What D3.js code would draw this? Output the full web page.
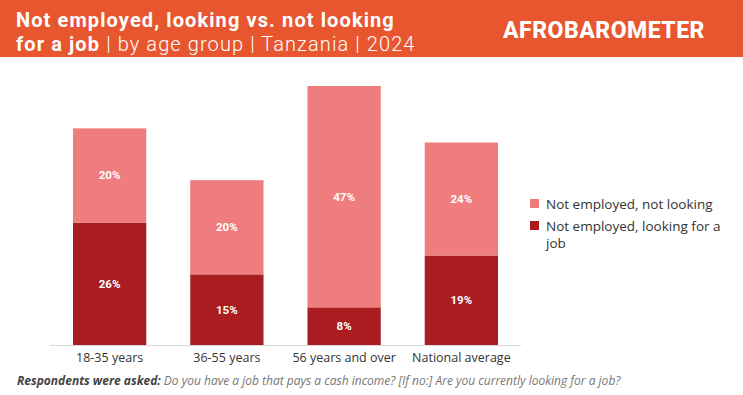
<!DOCTYPE html>
<html>
<head>
<meta charset="utf-8">
<script src="https://cdn.jsdelivr.net/npm/d3@7"></script>
<style>
  body { margin: 0; background: #fff; }
  svg { display: block; font-family: "Open Sans", "Noto Sans", sans-serif; }
</style>
</head>
<body>
<script>
// chart data
var groups = ["18-35 years", "36-55 years", "56 years and over", "National average"];
var looking = [26, 15, 8, 19];      // Not employed, looking for a job
var notLooking = [20, 20, 47, 24];  // Not employed, not looking
var seriesNames = ["Not employed, not looking", "Not employed, looking for a job"];

var W = 743, H = 395;
var colLight = "#f07d7d", colDark = "#a91c1f";

var svg = d3.select("body").append("svg")
    .attr("width", W)
    .attr("height", H);

// header band
svg.append("rect")
    .attr("width", W).attr("height", 57)
    .attr("fill", "#e8562f");

// title, two lines
var title = svg.append("text")
    .attr("x", 16).attr("y", 27)
    .attr("fill", "#fff")
    .style("font-family", "Roboto, sans-serif")
    .style("letter-spacing", "1.1px")
    .style("font-size", "20px");
title.append("tspan").attr("x", 16).style("font-weight", "700")
    .text("Not employed, looking vs. not looking");
title.append("tspan").attr("x", 16).attr("dy", 24).style("font-weight", "700").text("for a job ");
title.append("tspan").style("font-weight", "300").text("| by age group | Tanzania | 2024");

svg.append("text")
    .attr("x", 604).attr("y", 38)
    .attr("text-anchor", "middle")
    .attr("fill", "#fff")
    .style("font-size", "23px")
    .style("font-weight", "800")
    .style("letter-spacing", "0.5px")
    .style("font-family", "Roboto, sans-serif")
    .text("AFROBAROMETER");

// scales
var x = d3.scaleBand()
    .domain(groups)
    .range([51, 520])
    .paddingInner(0.375)
    .paddingOuter(0.1875);

var y = d3.scaleLinear()
    .domain([0, 55])
    .range([345, 86]);

var data = groups.map(function(g, i) {
  return { group: g, looking: looking[i], notLooking: notLooking[i] };
});

var stack = d3.stack().keys(["looking", "notLooking"]);
var layers = stack(data);
var colors = { looking: colDark, notLooking: colLight };

var layerG = svg.selectAll("g.layer")
    .data(layers)
  .enter().append("g")
    .attr("class", "layer")
    .attr("fill", function(d) { return colors[d.key]; });

layerG.selectAll("rect")
    .data(function(d) { return d; })
  .enter().append("rect")
    .attr("x", function(d) { return x(d.data.group); })
    .attr("y", function(d) { return y(d[1]); })
    .attr("width", x.bandwidth())
    .attr("height", function(d) { return y(d[0]) - y(d[1]); });

layerG.selectAll("text")
    .data(function(d) { return d; })
  .enter().append("text")
    .attr("x", function(d) { return x(d.data.group) + x.bandwidth() / 2; })
    .attr("y", function(d) { return (y(d[0]) + y(d[1])) / 2 + 4; })
    .attr("text-anchor", "middle")
    .attr("fill", "#fff")
    .style("font-size", "11.5px")
    .style("font-weight", "700")
    .style("font-family", "Roboto, sans-serif")
    .text(function(d) { return (d[1] - d[0]) + "%"; });

// x axis
var xAxis = svg.append("g")
    .attr("transform", "translate(0,345)")
    .call(d3.axisBottom(x).tickSize(0).tickPadding(8));
xAxis.select(".domain").attr("stroke", "#d9d9d9").attr("d", "M50,0.5H521");
xAxis.selectAll("text")
    .attr("fill", "#333")
    .style("font-size", "12.5px")
    .style("font-family", "'Open Sans', sans-serif");

// legend
var legend = svg.append("g").attr("transform", "translate(530,199)");
legend.append("rect").attr("width", 9).attr("height", 9).attr("fill", colLight);
legend.append("text").attr("x", 16).attr("y", 10)
    .attr("fill", "#333").style("font-size", "13.5px")
    .text(seriesNames[0]);
legend.append("rect").attr("y", 22).attr("width", 9).attr("height", 9).attr("fill", colDark);
var lt = legend.append("text").attr("x", 16).attr("y", 32)
    .attr("fill", "#333").style("font-size", "13.5px");
lt.append("tspan").attr("x", 16).text("Not employed, looking for a");
lt.append("tspan").attr("x", 16).attr("dy", 17).text("job");

// footnote
var fn = svg.append("text")
    .attr("x", 17).attr("y", 385)
    .style("font-size", "12px")
    .style("font-style", "italic");
fn.append("tspan").attr("fill", "#444").style("font-weight", "700").text("Respondents were asked: ");
fn.append("tspan").attr("fill", "#777").text("Do you have a job that pays a cash income? [If no:] Are you currently looking for a job?");
</script>
</body>
</html>
